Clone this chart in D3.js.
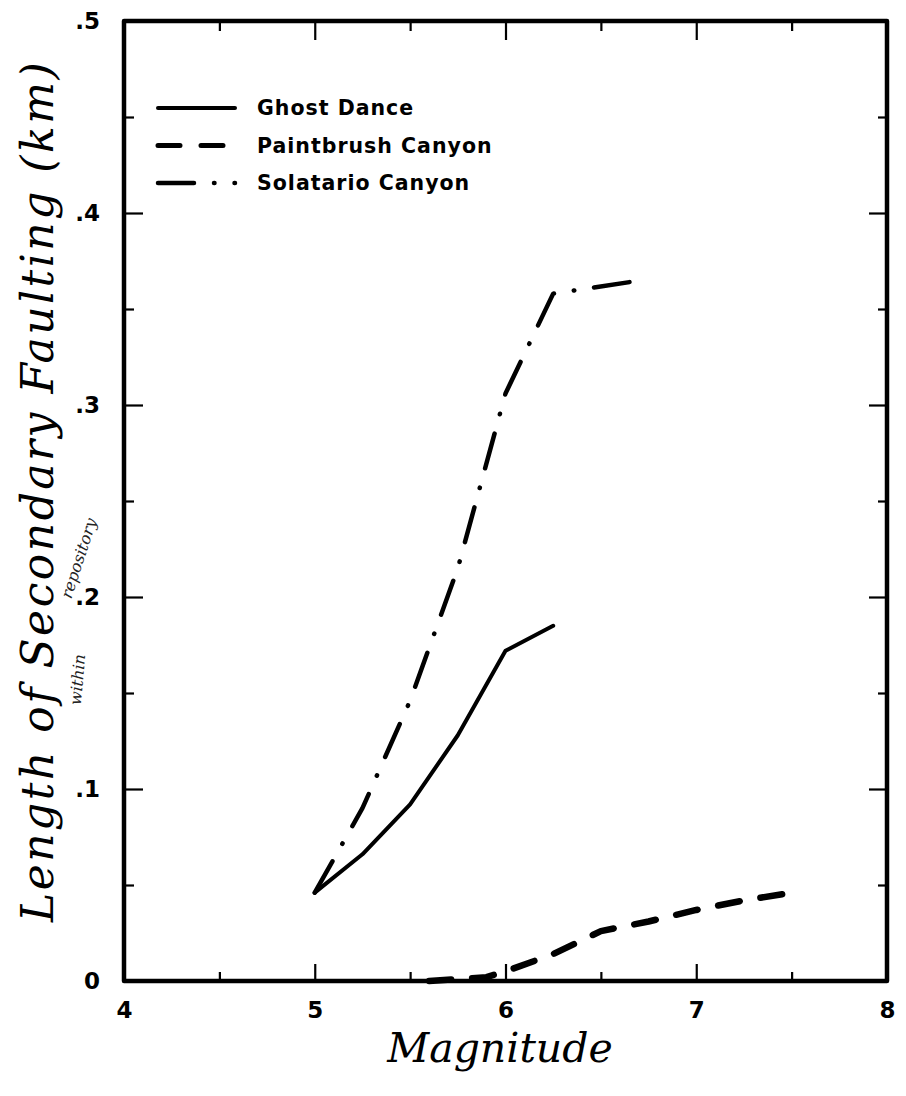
<!DOCTYPE html>
<html>
<head>
<meta charset="utf-8">
<script src="https://cdn.jsdelivr.net/npm/d3@7"></script>
<style>
  html, body { margin: 0; padding: 0; background: #fff; }
  svg { display: block; }
</style>
</head>
<body>
<svg id="chart" width="906" height="1096"></svg>
<script>
// Magnitude values (x) and length of secondary faulting in km (y)
const ghostDanceMag = [5.0, 5.25, 5.5, 5.75, 6.0, 6.25];
const ghostDanceLen = [0.046, 0.066, 0.092, 0.128, 0.172, 0.185];

const paintbrushMag = [5.6, 5.9, 6.0, 6.25, 6.5, 6.75, 7.0, 7.25, 7.5];
const paintbrushLen = [0.0, 0.002, 0.005, 0.014, 0.026, 0.031, 0.037, 0.042, 0.046];

const solatarioMag = [5.0, 5.25, 5.5, 5.75, 6.0, 6.25, 6.65];
const solatarioLen = [0.046, 0.090, 0.146, 0.215, 0.306, 0.358, 0.364];

const seriesNames = ["Ghost Dance", "Paintbrush Canyon", "Solatario Canyon"];

const xMajorTicks = [4, 5, 6, 7, 8];
const xTickLabels = ["4", "5", "6", "7", "8"];
const xMinorTicks = [4.5, 5.5, 6.5, 7.5];
const yMajorTicks = [0, 0.1, 0.2, 0.3, 0.4, 0.5];
const yTickLabels = ["0", ".1", ".2", ".3", ".4", ".5"];
const yMinorTicks = [0.05, 0.15, 0.25, 0.35, 0.45];

const xTitle = "Magnitude";
const yTitle = "Length of Secondary Faulting (km)";
const noteWords = ["within", "repository"];

const svg = d3.select("#chart");
const plotLeft = 124, plotRight = 887, plotTop = 21, plotBottom = 981;

const x = d3.scaleLinear().domain([4, 8]).range([plotLeft, plotRight]);
const y = d3.scaleLinear().domain([0, 0.5]).range([plotBottom, plotTop]);

const tickFont = "'DejaVu Sans', sans-serif";

// Axes: bottom / left carry labels, top / right carry only ticks
function styleAxis(g) {
  g.select(".domain").remove();
  g.selectAll(".tick line").attr("stroke", "#000").attr("stroke-width", 2.2);
  g.selectAll(".tick text")
    .attr("fill", "#000")
    .style("font-family", tickFont)
    .style("font-weight", "bold")
    .style("font-size", "23px");
}

svg.append("g").attr("transform", `translate(0,${plotBottom})`)
  .call(d3.axisBottom(x).tickValues(xMajorTicks).tickSize(-17).tickPadding(21)
    .tickFormat((d, i) => xTickLabels[i]))
  .call(styleAxis);
svg.append("g").attr("transform", `translate(0,${plotBottom})`)
  .call(d3.axisBottom(x).tickValues(xMinorTicks).tickSize(-9).tickFormat(""))
  .call(styleAxis);
svg.append("g").attr("transform", `translate(0,${plotTop})`)
  .call(d3.axisTop(x).tickValues(xMajorTicks.slice(1, -1)).tickSize(-19).tickFormat(""))
  .call(styleAxis);
svg.append("g").attr("transform", `translate(0,${plotTop})`)
  .call(d3.axisTop(x).tickValues(xMinorTicks).tickSize(-10).tickFormat(""))
  .call(styleAxis);

svg.append("g").attr("transform", `translate(${plotLeft},0)`)
  .call(d3.axisLeft(y).tickValues(yMajorTicks).tickSize(-19).tickPadding(24)
    .tickFormat((d, i) => yTickLabels[i]))
  .call(styleAxis);
svg.append("g").attr("transform", `translate(${plotLeft},0)`)
  .call(d3.axisLeft(y).tickValues(yMinorTicks).tickSize(-10).tickFormat(""))
  .call(styleAxis);
svg.append("g").attr("transform", `translate(${plotRight},0)`)
  .call(d3.axisRight(y).tickValues(yMajorTicks.slice(1, -1)).tickSize(-18).tickFormat(""))
  .call(styleAxis);
svg.append("g").attr("transform", `translate(${plotRight},0)`)
  .call(d3.axisRight(y).tickValues(yMinorTicks).tickSize(-9).tickFormat(""))
  .call(styleAxis);

// Plot frame
svg.append("rect")
  .attr("x", x(4)).attr("y", y(0.5))
  .attr("width", x(8) - x(4)).attr("height", y(0) - y(0.5))
  .attr("fill", "none").attr("stroke", "#000")
  .attr("stroke-width", 4.5).attr("stroke-linejoin", "round");

// Curves
const styles = [
  { dash: null, width: 4 },
  { dash: "22,21", width: 6.5 },
  { dash: "36,20,0.5,20", width: 4.5 }
];
const series = [
  ghostDanceMag.map((m, i) => [m, ghostDanceLen[i]]),
  paintbrushMag.map((m, i) => [m, paintbrushLen[i]]),
  solatarioMag.map((m, i) => [m, solatarioLen[i]])
];

const line = d3.line().x(d => x(d[0])).y(d => y(d[1]));
series.forEach((pts, i) => {
  svg.append("path")
    .datum(pts)
    .attr("d", line)
    .attr("fill", "none")
    .attr("stroke", "#000")
    .attr("stroke-width", styles[i].width)
    .attr("stroke-linecap", "round")
    .attr("stroke-linejoin", "round")
    .attr("stroke-dasharray", styles[i].dash);
});

// Legend
const legend = svg.append("g");
seriesNames.forEach((name, i) => {
  const ly = 108 + i * 37.5;
  legend.append("line")
    .attr("x1", 158).attr("x2", 235).attr("y1", ly).attr("y2", ly)
    .attr("stroke", "#000")
    .attr("stroke-width", Math.min(styles[i].width, 5))
    .attr("stroke-linecap", "round")
    .attr("stroke-dasharray", styles[i].dash);
  legend.append("text")
    .attr("x", 257).attr("y", ly)
    .attr("dy", "0.36em")
    .style("font-family", tickFont)
    .style("font-weight", "bold")
    .style("font-size", "20.5px")
    .style("letter-spacing", "1px")
    .text(name);
});

// Axis titles
const titleFont = "'DejaVu Serif', serif";
svg.append("text")
  .attr("x", 500).attr("y", 1062)
  .attr("text-anchor", "middle")
  .style("font-family", titleFont)
  .style("font-style", "italic")
  .style("font-size", "41px")
  .text(xTitle);

svg.append("text")
  .attr("transform", "translate(53,491) rotate(-90)")
  .attr("text-anchor", "middle")
  .style("font-family", titleFont)
  .style("font-style", "italic")
  .style("font-size", "44px")
  .style("letter-spacing", "2.5px")
  .text(yTitle);

// Handwritten insertion under the y title
const note = svg.append("g").style("font-family", titleFont)
  .style("font-style", "italic").style("font-size", "16px").attr("fill", "#222");
note.append("text").attr("transform", "translate(83,680) rotate(-85)")
  .attr("text-anchor", "middle").text(noteWords[0]);
note.append("text").attr("transform", "translate(84,560) rotate(-72)")
  .attr("text-anchor", "middle").text(noteWords[1]);
</script>
</body>
</html>
